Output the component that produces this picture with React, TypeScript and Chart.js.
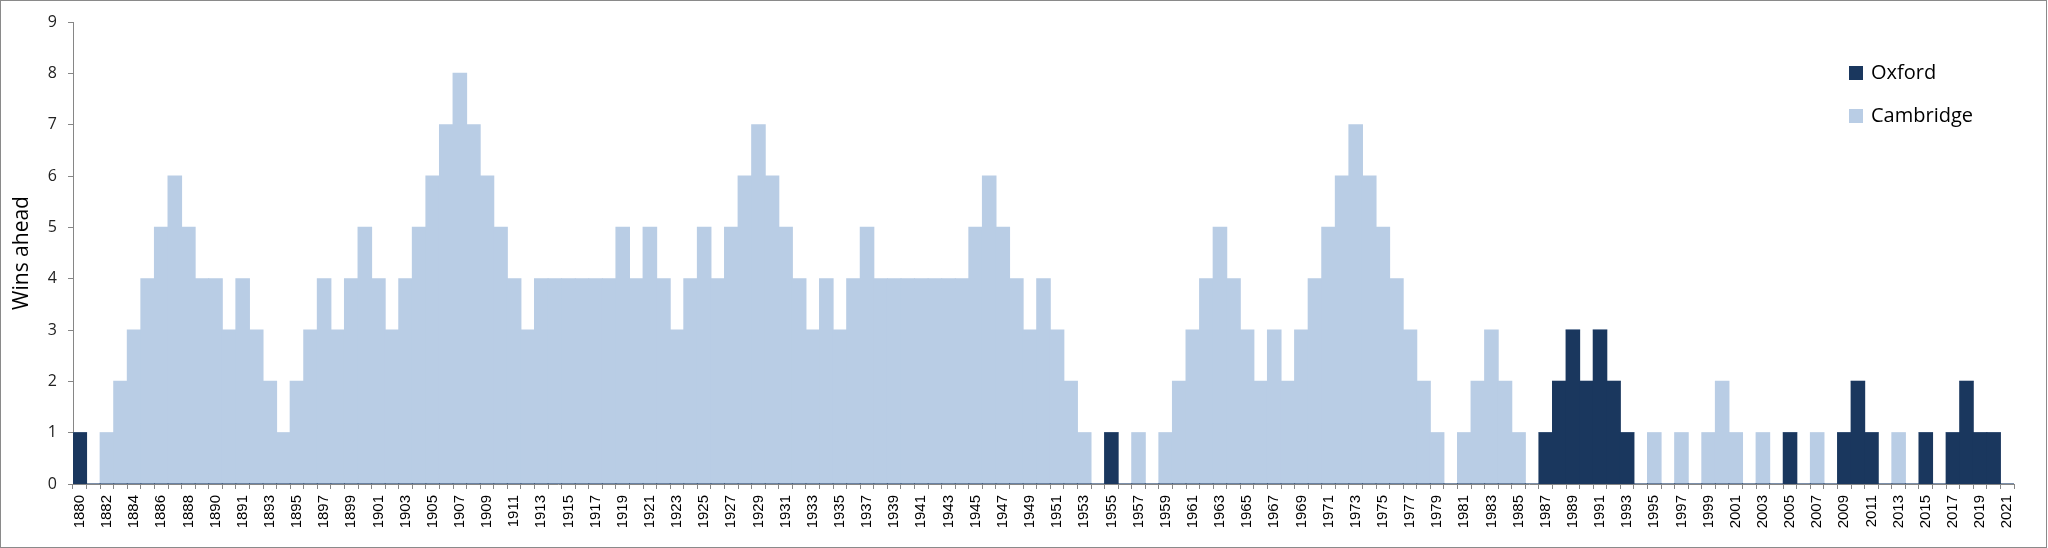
import React, { useEffect, useRef } from "react";
import { Chart, registerables } from "chart.js";

Chart.register(...registerables);

const years: string[] = [
  "1880","1881","1882","1883","1884","1885","1886","1887","1888","1889",
  "1890","1890","1891","1892","1893","1894","1895","1896","1897","1898",
  "1899","1900","1901","1902","1903","1904","1905","1906","1907","1908",
  "1909","1910","1911","1912","1913","1914","1915","1916","1917","1918",
  "1919","1920","1921","1922","1923","1924","1925","1926","1927","1928",
  "1929","1930","1931","1932","1933","1934","1935","1936","1937","1938",
  "1939","1940","1941","1942","1943","1944","1945","1946","1947","1948",
  "1949","1950","1951","1952","1953","1954","1955","1956","1957","1958",
  "1959","1960","1961","1962","1963","1964","1965","1966","1967","1968",
  "1969","1970","1971","1972","1973","1974","1975","1976","1977","1978",
  "1979","1980","1981","1982","1983","1984","1985","1986","1987","1988",
  "1989","1990","1991","1992","1993","1994","1995","1996","1997","1998",
  "1999","2000","2001","2002","2003","2004","2005","2006","2007","2008",
  "2009","2010","2011","2012","2013","2014","2015","2016","2017","2018",
  "2019","2020","2021",
];

const oxford: number[] = [
  1,0,0,0,0,0,0,0,0,0,
  0,0,0,0,0,0,0,0,0,0,
  0,0,0,0,0,0,0,0,0,0,
  0,0,0,0,0,0,0,0,0,0,
  0,0,0,0,0,0,0,0,0,0,
  0,0,0,0,0,0,0,0,0,0,
  0,0,0,0,0,0,0,0,0,0,
  0,0,0,0,0,0,1,0,0,0,
  0,0,0,0,0,0,0,0,0,0,
  0,0,0,0,0,0,0,0,0,0,
  0,0,0,0,0,0,0,0,1,2,
  3,2,3,2,1,0,0,0,0,0,
  0,0,0,0,0,0,1,0,0,0,
  1,2,1,0,0,0,1,0,1,2,
  1,1,0,
];

const cambridge: number[] = [
  0,0,1,2,3,4,5,6,5,4,
  4,3,4,3,2,1,2,3,4,3,
  4,5,4,3,4,5,6,7,8,7,
  6,5,4,3,4,4,4,4,4,4,
  5,4,5,4,3,4,5,4,5,6,
  7,6,5,4,3,4,3,4,5,4,
  4,4,4,4,4,4,5,6,5,4,
  3,4,3,2,1,0,0,0,1,0,
  1,2,3,4,5,4,3,2,3,2,
  3,4,5,6,7,6,5,4,3,2,
  1,0,1,2,3,2,1,0,0,0,
  0,0,0,0,0,0,1,0,1,0,
  1,2,1,0,1,0,0,0,1,0,
  0,0,0,0,1,0,0,0,0,0,
  0,0,0,
];

const OXFORD_COLOR = "#1A375E";
const CAMBRIDGE_COLOR = "#B9CDE5";
const AXIS_COLOR = "#868686";

const legendPlugin = {
  id: "insideLegend",
  afterDraw(chart: any) {
    const { ctx, chartArea } = chart;
    const x0 = chartArea.right - 165;
    const rows = [chartArea.top + 51, chartArea.top + 94];
    ctx.save();
    ctx.font = "20px 'Open Sans'";
    ctx.textBaseline = "middle";
    ctx.textAlign = "left";
    chart.data.datasets.forEach((ds: any, i: number) => {
      const cy = rows[i];
      ctx.fillStyle = ds.backgroundColor;
      ctx.fillRect(x0, cy - 7, 14, 14);
      ctx.fillStyle = "#000";
      ctx.fillText(ds.label, x0 + 22, cy);
    });
    ctx.restore();
  },
};

export default function App() {
  const ref = useRef<HTMLCanvasElement>(null);

  useEffect(() => {
    if (!ref.current) return;
    const chart = new Chart(ref.current, {
      type: "bar",
      data: {
        labels: years,
        datasets: [
          {
            label: "Oxford",
            data: oxford,
            backgroundColor: OXFORD_COLOR,
            borderWidth: 0,
            inflateAmount: 0.5,
            barPercentage: 1,
            categoryPercentage: 1,
          },
          {
            label: "Cambridge",
            data: cambridge,
            backgroundColor: CAMBRIDGE_COLOR,
            borderWidth: 0,
            inflateAmount: 0.5,
            barPercentage: 1,
            categoryPercentage: 1,
          },
        ],
      },
      options: {
        animation: false,
        responsive: false,
        maintainAspectRatio: false,
        layout: { padding: { top: 22, right: 34, left: 0, bottom: 0 } },
        plugins: {
          legend: { display: false },
          tooltip: { enabled: false },
        },
        scales: {
          x: {
            stacked: true,
            offset: true,
            grid: {
              display: true,
              offset: true,
              drawOnChartArea: false,
              drawTicks: true,
              tickLength: 5,
              color: AXIS_COLOR,
            },
            border: { display: true, color: AXIS_COLOR },
            ticks: {
              autoSkip: false,
              maxRotation: 90,
              minRotation: 90,
              padding: 6,
              color: "#000",
              font: { family: "'Liberation Sans'", size: 15 },
              callback: (_v: any, i: number) => (i % 2 === 0 ? years[i] : ""),
            },
            afterFit: (scale: any) => {
              scale.height = 64;
            },
          },
          y: {
            stacked: true,
            min: 0,
            max: 9,
            grid: {
              display: true,
              drawOnChartArea: false,
              drawTicks: true,
              tickLength: 5,
              color: AXIS_COLOR,
            },
            border: { display: true, color: AXIS_COLOR },
            ticks: {
              stepSize: 1,
              padding: 11,
              color: "#222",
              font: { family: "'Open Sans'", size: 16 },
            },
            title: {
              display: true,
              text: "Wins ahead",
              color: "#000",
              font: { family: "'Open Sans'", size: 21 },
              padding: { top: 9, bottom: 0 },
            },
            afterFit: (scale: any) => {
              scale.width = 73;
            },
          },
        },
      },
      plugins: [legendPlugin],
    });
    return () => chart.destroy();
  }, []);

  return (
    <div style={{ position: "fixed", left: 0, top: 0, width: 2048, height: 548, background: "#fff" }}>
      <canvas ref={ref} width={2048} height={548} style={{ position: "absolute", left: 0, top: 0, width: 2048, height: 548 }} />
      <div
        style={{
          position: "absolute",
          left: 0,
          top: 0,
          width: 2047,
          height: 548,
          boxSizing: "border-box",
          border: "1px solid #8a8a8a",
          pointerEvents: "none",
        }}
      />
    </div>
  );
}
